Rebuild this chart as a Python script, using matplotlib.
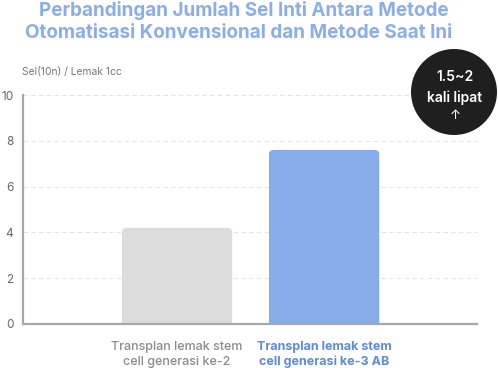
import matplotlib.pyplot as plt
from matplotlib.patches import Ellipse, FancyBboxPatch

plt.rcParams['font.family'] = ['Inter', 'DejaVu Sans']

categories = ["Transplan lemak stem\ncell generasi ke-2", "Transplan lemak stem\ncell generasi ke-3 AB"]
values = [4.2, 7.6]
bar_colors = ["#dcdcdc", "#86adea"]
label_colors = ["#8a8a8a", "#5f8ad8"]
yticks = [0, 2, 4, 6, 8, 10]

W, H = 498, 368
fig = plt.figure(figsize=(W / 100, H / 100), dpi=100)
ax = fig.add_axes([23 / W, 1 - 324 / H, (477 - 23) / W, (324 - 95) / H])

x = [0, 1]
bw = 0.75
for xi, v, c in zip(x, values, bar_colors):
    # rounded top corners
    p = FancyBboxPatch((xi - bw / 2, -0.5), bw, v + 0.5,
                       boxstyle="round,pad=0,rounding_size=0.04",
                       mutation_aspect=4.0, fc=c, ec="none", zorder=2)
    ax.add_patch(p)
    p.set_clip_box(ax.bbox)

ax.set_xlim(-1.048, 2.04)
ax.set_ylim(0, 10)
ax.set_yticks(yticks)
ax.set_yticklabels([str(t) for t in yticks], fontsize=8.5, color="#666666")
ax.tick_params(axis="y", length=0, pad=7)
ax.set_xticks(x)
ax.set_xticklabels(categories, fontsize=9.0, linespacing=1.35)
ax.tick_params(axis="x", length=0, pad=12)
for lab, c, w in zip(ax.get_xticklabels(), label_colors, ["medium", "bold"]):
    lab.set_color(c)
    lab.set_fontweight(w)

for t in yticks[1:]:
    ax.axhline(t, color="#e4e4e4", lw=0.8, ls=(0, (4, 3)), zorder=1, clip_on=False)

for s in ["top", "right"]:
    ax.spines[s].set_visible(False)
ax.spines["left"].set_color("#a8a8a8")
ax.spines["left"].set_linewidth(1.6)
ax.spines["bottom"].set_color("#a8a8a8")
ax.spines["bottom"].set_linewidth(1.6)

fig.text(22 / W, 1 - 72 / H, "Sel(10n) / Lemak 1cc", fontsize=7.4, color="#777777",
         ha="left", va="center")

fig.text(0.49, 1 - 11 / H, "Perbandingan Jumlah Sel Inti Antara Metode", fontsize=13.6,
         fontweight="bold", color="#8aaee8", ha="center", va="center")
fig.text(0.48, 1 - 33 / H, "Otomatisasi Konvensional dan Metode Saat Ini", fontsize=13.6,
         fontweight="bold", color="#8aaee8", ha="center", va="center")

circ = Ellipse((454 / W, 1 - 92 / H), 86 / W, 86 / H, transform=fig.transFigure,
               fc="#1f1f1f", ec="none", zorder=5)
fig.patches.append(circ)
fig.text(455 / W, 1 - 77 / H, "1.5~2", fontsize=10, fontweight="semibold", color="white",
         ha="center", va="center", zorder=6)
fig.text(455 / W, 1 - 98 / H, "kali lipat", fontsize=10, fontweight="semibold", color="white",
         ha="center", va="center", zorder=6)
fig.text(455 / W, 1 - 116 / H, "↑", fontsize=9.5, color="white", ha="center", va="center", zorder=6)

fig.savefig("out.png", dpi=100)
